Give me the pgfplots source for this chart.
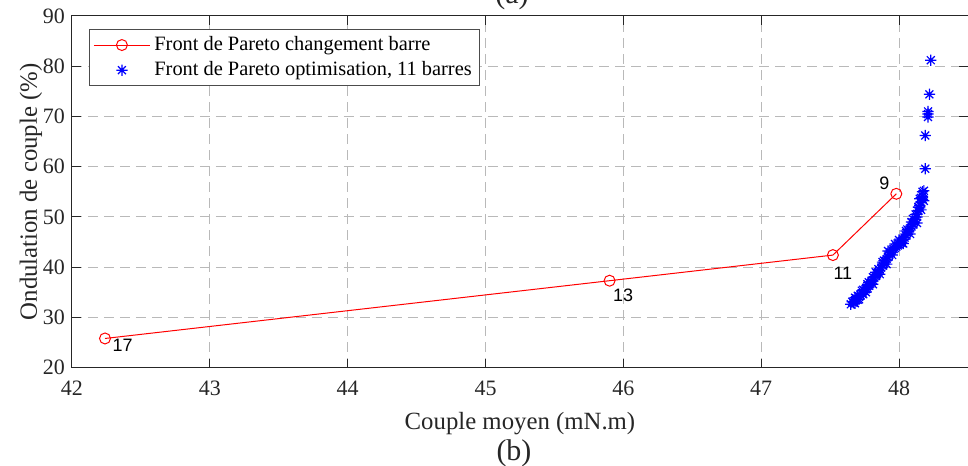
\documentclass[border=0pt]{standalone}
\usepackage{fontspec}
\setmainfont{Liberation Serif}
\newfontfamily\labelfont{Liberation Sans}
\usepackage{pgfplots}
\pgfplotsset{compat=1.18}
\definecolor{axgray}{RGB}{38,38,38}
\definecolor{gridgray}{RGB}{185,185,185}
% MATLAB-like '*' marker with eight arms
\pgfdeclareplotmark{mstar}{%
  \pgfpathmoveto{\pgfqpoint{-\pgfplotmarksize}{0pt}}%
  \pgfpathlineto{\pgfqpoint{\pgfplotmarksize}{0pt}}%
  \pgfpathmoveto{\pgfqpoint{0pt}{-\pgfplotmarksize}}%
  \pgfpathlineto{\pgfqpoint{0pt}{\pgfplotmarksize}}%
  \pgfpathmoveto{\pgfqpoint{-0.707\pgfplotmarksize}{-0.707\pgfplotmarksize}}%
  \pgfpathlineto{\pgfqpoint{0.707\pgfplotmarksize}{0.707\pgfplotmarksize}}%
  \pgfpathmoveto{\pgfqpoint{-0.707\pgfplotmarksize}{0.707\pgfplotmarksize}}%
  \pgfpathlineto{\pgfqpoint{0.707\pgfplotmarksize}{-0.707\pgfplotmarksize}}%
  \pgfusepathqstroke}
\pgfplotsset{
    redleg/.style={legend image code/.code={\draw[mark repeat=2, mark phase=2, ##1]
        plot coordinates {(0pt,0pt) (14pt,0pt) (28pt,0pt)};}},
    blueleg/.style={legend image code/.code={\draw[##1] plot coordinates {(14pt,0pt)};}},
}
\begin{document}
\begin{tikzpicture}
\begin{axis}[
    name=ax,
    scale only axis,
    width=448.5pt, height=176pt,
    xmin=42, xmax=48.5,
    ymin=20, ymax=90,
    xtick={42,43,...,48},
    ytick={20,30,...,90},
    tick align=inside,
    major tick length=4.5pt,
    axis line style={axgray, line width=0.5pt},
    every tick/.style={axgray, line width=0.5pt},
    grid=major,
    major grid style={gridgray, line width=0.5pt, dash pattern=on 5pt off 3pt},
    /pgf/number format/assume math mode=true,
    tick label style={font=\fontsize{11}{13}\selectfont, text=axgray},
    xticklabel style={yshift=-3pt},
    xlabel={Couple moyen (mN.m)},
    ylabel={Ondulation de couple (\%)},
    label style={font=\fontsize{12.4}{15}\selectfont, text=axgray},
    xlabel style={at={(axis description cs:0.5,0)}, anchor=base, yshift=-31pt},
    ylabel style={at={([xshift=-17.5pt]axis description cs:0,0.5)}, anchor=base},
    legend style={at={(0.019,0.963)}, anchor=north west, draw=black!70,
        line width=0.5pt, font=\fontsize{10.2}{12}\selectfont,
        inner xsep=2pt, inner ysep=1.5pt, row sep=0pt},
    legend cell align=left,
]

% Front de Pareto, changement du nombre de barres
\addplot[red, line width=0.5pt, mark=o, mark size=2.75pt, redleg]
coordinates {
    (42.24,25.8) (45.90,37.3) (47.52,42.4) (47.98,54.6)
};
\addlegendentry{Front de Pareto changement barre}

% Front de Pareto de l'optimisation a 11 barres
\addplot[only marks, blue, mark=mstar, mark size=2.8pt,
    mark options={line width=0.6pt}, blueleg]
coordinates {
    (47.65,32.6) (47.66,33.1) (47.67,32.9) (47.68,33.4) (47.68,32.8)
    (47.69,33.8) (47.70,33.5) (47.70,34.3) (47.71,34.1) (47.72,34.4)
    (47.73,34.8) (47.74,34.6) (47.74,35.5) (47.75,35.2) (47.76,35.6)
    (47.77,35.9) (47.77,36.6) (47.78,36.3) (47.79,36.7) (47.80,37.1)
    (47.81,37.4) (47.81,38.0) (47.82,37.9) (47.83,38.2) (47.84,38.6)
    (47.85,39.0) (47.85,39.6) (47.86,39.4) (47.87,39.9) (47.88,40.3)
    (47.89,40.7) (47.89,41.3) (47.90,41.2) (47.91,41.6) (47.92,42.0)
    (47.93,42.5) (47.93,43.0) (47.94,42.9) (47.95,43.3) (47.96,43.6)
    (47.97,43.8) (47.97,44.6) (47.98,44.1) (47.99,44.3) (48.00,44.6)
    (48.01,44.9) (48.02,45.2) (48.02,44.8) (48.03,45.5) (48.04,45.9)
    (48.05,46.3) (48.06,46.8) (48.06,47.5) (48.07,47.2) (48.08,47.7)
    (48.09,48.1) (48.09,49.0) (48.10,48.5) (48.11,49.0) (48.12,49.5)
    (48.12,50.5) (48.13,50.0) (48.13,50.6) (48.14,51.2) (48.14,52.0)
    (48.15,51.8) (48.15,52.3) (48.16,52.9) (48.16,53.8) (48.17,53.5)
    (48.17,54.1) (48.18,55.2)
    (47.68,33.9) (47.71,33.6) (47.73,35.3) (47.76,35.0) (47.78,37.0)
    (47.81,36.6) (47.83,39.0) (47.86,38.6) (47.88,41.0) (47.91,40.6)
    (47.92,43.2) (47.95,42.4) (48.00,45.4) (48.03,44.7) (48.05,47.2)
    (48.08,46.6) (48.10,49.6) (48.13,48.8) (48.14,51.9) (48.16,51.4)
    (48.15,53.6) (48.18,53.2) (48.17,55.0)
    (48.19,59.6) (48.19,66.2) (48.21,69.9) (48.21,70.5) (48.21,71.0)
    (48.22,74.4) (48.23,81.2)
};
\addlegendentry{Front de Pareto optimisation, 11 barres}

% nombre de barres
\node[font=\labelfont\fontsize{9}{10}\selectfont] at ([xshift=8.8pt,yshift=-3.5pt]axis cs:42.24,25.8) {17};
\node[font=\labelfont\fontsize{9}{10}\selectfont] at ([xshift=6.8pt,yshift=-7.3pt]axis cs:45.90,37.3) {13};
\node[font=\labelfont\fontsize{9}{10}\selectfont] at ([xshift=5pt,yshift=-9pt]axis cs:47.52,42.4) {11};
\node[font=\labelfont\fontsize{9}{10}\selectfont] at ([xshift=-6pt,yshift=5.4pt]axis cs:47.98,54.6) {9};
\end{axis}
\node[font=\fontsize{15}{18}\selectfont, text=axgray, anchor=base]
    at ([xshift=-4pt,yshift=6pt]ax.north) {(a)};
\node[font=\fontsize{15}{18}\selectfont, text=axgray, anchor=base]
    at ([xshift=-3pt,yshift=-46.5pt]ax.south) {(b)};
\pgfresetboundingbox
\path[use as bounding box] ([xshift=-36pt,yshift=-49pt]ax.south west) rectangle ([yshift=8pt]ax.north east);
\end{tikzpicture}
\end{document}
